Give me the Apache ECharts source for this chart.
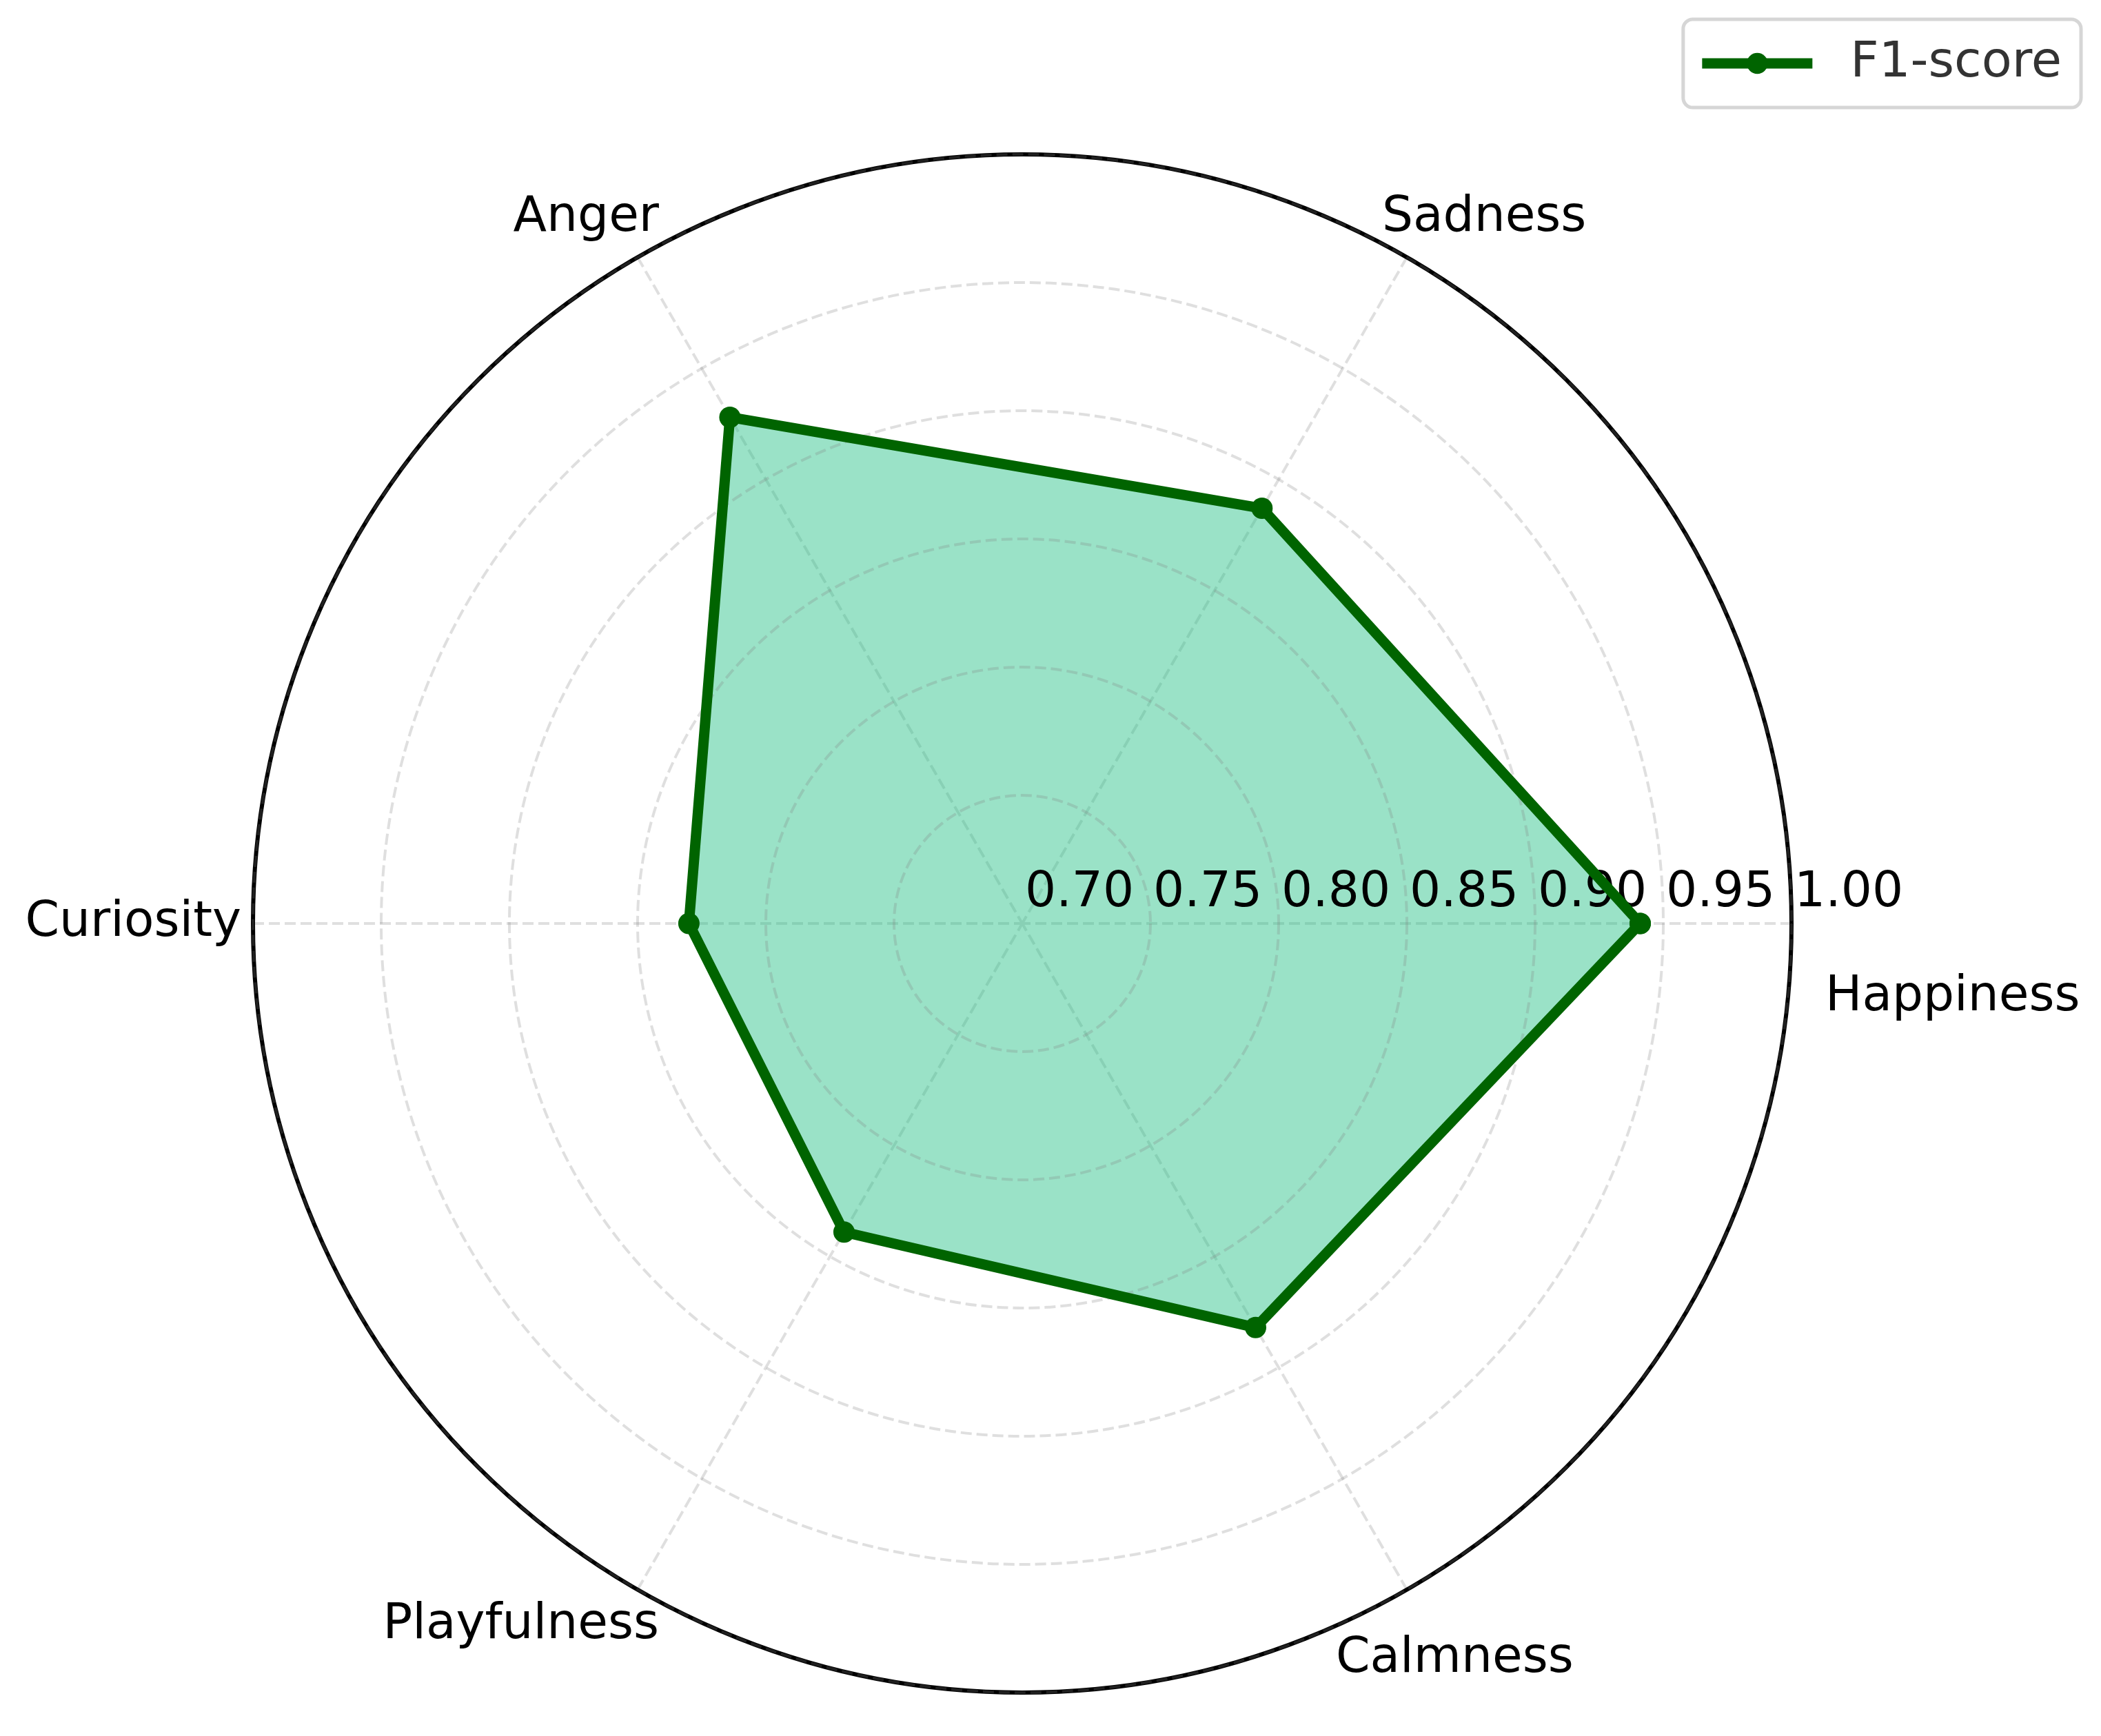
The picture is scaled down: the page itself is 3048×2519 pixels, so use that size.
<!DOCTYPE html>
<html>
<head>
<meta charset="utf-8">
<script src="https://cdn.jsdelivr.net/npm/echarts@6/dist/echarts.min.js"></script>
<style>
  html, body { margin: 0; padding: 0; background: #fff; }
  #chart { width: 3048px; height: 2519px; }
</style>
</head>
<body>
<div id="chart"></div>
<script>
const categories = ["Happiness", "Sadness", "Anger", "Curiosity", "Playfulness", "Calmness"];
const f1Scores = [0.941, 0.887, 0.928, 0.830, 0.839, 0.882];
const radialTicks = [0.70, 0.75, 0.80, 0.85, 0.90, 0.95, 1.00];
const seriesName = "F1-score";

const font = "DejaVu Sans";
const lineGreen = "#006400";
const gridLine = { color: "rgba(128, 128, 128, 0.25)", width: 4, type: [16, 7] };

const step = 360 / categories.length;
const angles = categories.map((c, i) => i * step);

// back to the first point at 360 so the polygon closes
const linePoints = f1Scores.map((v, i) => [v, angles[i]]);
linePoints.push([f1Scores[0], 360]);

const rMin = radialTicks[0];
const rMax = radialTicks[radialTicks.length - 1];
const rStep = Math.round((radialTicks[1] - radialTicks[0]) * 100) / 100;

// where each category name sits around the outer circle (like matplotlib did it)
const namePlacement = [
  { align: "left", offset: [49, 108] },
  { align: "left", offset: [-36, -57] },
  { align: "right", offset: [31, -57] },
  { align: "right", offset: [-17, 0] },
  { align: "right", offset: [31, 52] },
  { align: "left", offset: [-103, 101] },
];

const chart = echarts.init(document.getElementById("chart"));

const option = {
  animation: false,
  backgroundColor: "#fff",
  polar: { center: [1483, 1340], radius: 1116 },
  angleAxis: {
    type: "value",
    min: 0,
    max: 360,
    interval: step,
    startAngle: 0,
    clockwise: false,
    axisLine: { show: true, lineStyle: { color: "#000", width: 6 } },
    axisTick: { show: false },
    axisLabel: { show: false },
    splitLine: { show: true, lineStyle: gridLine },
  },
  radiusAxis: {
    type: "value",
    min: rMin,
    max: rMax,
    interval: rStep,
    z: 2,
    axisLine: { show: false },
    axisTick: { show: false },
    axisLabel: {
      formatter: (v) => v.toFixed(2),
      align: "left",
      verticalAlign: "bottom",
      margin: 8,
      padding: [0, 0, 0, 4],
      fontSize: 71,
      color: "#000",
      fontFamily: font,
    },
    splitLine: { show: true, lineStyle: gridLine },
  },
  legend: {
    data: [seriesName],
    right: 29,
    top: 28,
    backgroundColor: "#fff",
    borderColor: "#d6d6d6",
    borderWidth: 5,
    borderRadius: 14,
    padding: [28, 28, 28, 20],
    itemWidth: 160,
    itemHeight: 38,
    lineStyle: { width: 15 },
    textStyle: { fontSize: 72, color: "#333", fontFamily: font, padding: [0, 0, 0, 50] },
  },
  series: [
    {
      // fill only, kept under the radial tick labels
      name: "fill",
      type: "line",
      coordinateSystem: "polar",
      data: linePoints,
      symbol: "none",
      lineStyle: { width: 0, opacity: 0 },
      areaStyle: { color: "rgba(30, 190, 130, 0.45)", opacity: 1 },
      silent: true,
      z: 1,
    },
    {
      name: seriesName,
      type: "line",
      coordinateSystem: "polar",
      data: linePoints,
      symbol: "circle",
      symbolSize: 31,
      showAllSymbol: true,
      lineStyle: { color: lineGreen, width: 15 },
      itemStyle: { color: lineGreen },
      z: 3,
    },
    {
      name: "names",
      type: "scatter",
      coordinateSystem: "polar",
      silent: true,
      symbolSize: 1,
      itemStyle: { color: "#fff", opacity: 0 },
      label: {
        show: true,
        position: "inside",
        formatter: "{b}",
        verticalAlign: "middle",
        fontSize: 71,
        color: "#000",
        opacity: 1,
        textBorderWidth: 0,
        fontFamily: font,
      },
      data: categories.map((c, i) => ({
        name: c,
        value: [rMax, angles[i]],
        label: namePlacement[i],
      })),
      z: 4,
    },
  ],
};

chart.setOption(option);
</script>
</body>
</html>
